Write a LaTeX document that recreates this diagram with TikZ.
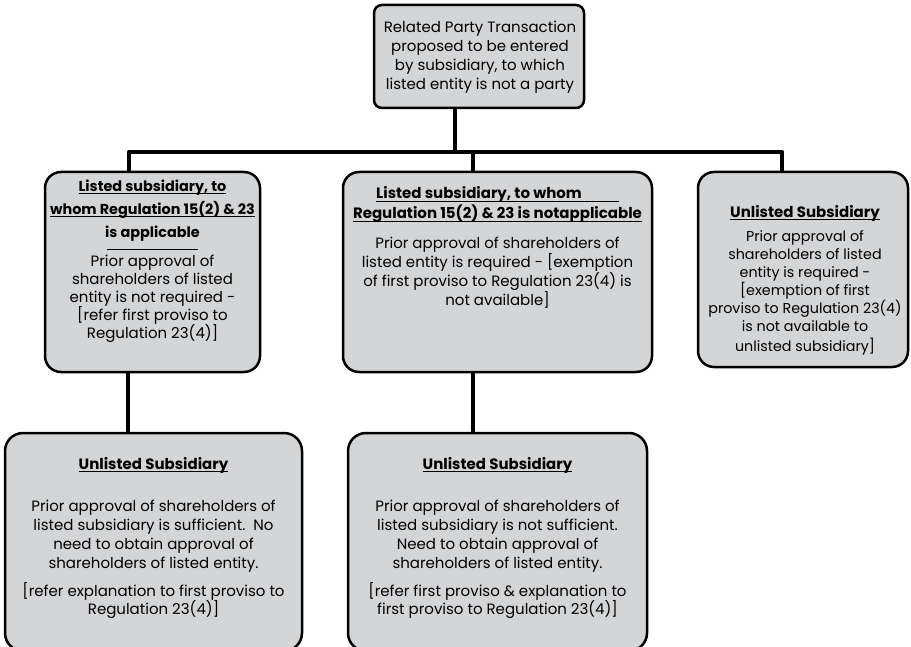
\documentclass[tikz,border=0pt]{standalone}
\usepackage{fontspec}
\setmainfont{Poppins}
\usetikzlibrary{calc}

\definecolor{boxgray}{RGB}{212,213,215}

% text settings for box bodies and headings
\newcommand\rptbody[2]{\fontsize{#1}{#2}\selectfont}
\newcommand\rpthead[2]{\fontsize{#1}{#2}\selectfont\bfseries}
% underline drawn close to the baseline
\newcommand\hdul[1]{\setbox0\hbox{#1}\rlap{\rule[-2.5pt]{\wd0}{0.9pt}}\box0}

\tikzset{
  box/.style={draw=black, line width=2.5pt, fill=boxgray, rounded corners=16pt,
              inner sep=0pt, outer sep=0pt, anchor=north west},
  body/.style={align=center, inner sep=0pt, font=\rptbody{15}{#1}},
  body/.default=19,
  bodysmall/.style={align=center, inner sep=0pt, font=\rptbody{14.3}{#1}},
  head/.style={align=center, inner sep=0pt, font=\rpthead{15}{#1}},
  head/.default=23,
  headsmall/.style={align=center, inner sep=0pt, font=\rpthead{14.4}{#1}},
  conn/.style={line width=4.5pt, line join=round, draw=black}
}

\begin{document}
\begin{tikzpicture}[x=1pt,y=-1pt]
\useasboundingbox (0,0) rectangle (911,647);
\clip (0,0) rectangle (911,647);

% boxes
\node[box, rounded corners=8pt, minimum width=210pt, minimum height=103pt] (b0) at (374,5) {};
\node[box, minimum width=215pt, minimum height=200pt] (b1) at (45,172) {};
\node[box, minimum width=309pt, minimum height=200pt] (b2) at (343,172) {};
\node[box, minimum width=210pt, minimum height=195pt] (b3) at (698,172) {};
\node[box, rounded corners=18pt, minimum width=297pt, minimum height=218pt] (b4) at (5,433) {};
\node[box, rounded corners=18pt, minimum width=299pt, minimum height=218pt] (b5) at (348,433) {};

% connectors
\coordinate (j0) at (455,152);
\coordinate (j1) at (129,152);
\coordinate (j2) at (473,152);
\coordinate (j3) at (782,152);
\coordinate (j4) at (128,400);
\draw[conn] (b0.south -| j0) -- (j0);
\draw[conn] (b1.north -| j1) -- (j1) -- (j3) -- (b3.north -| j3);
\draw[conn] (j2) -- (b2.north -| j2);
\draw[conn] (b1.south -| j4) -- (b4.north -| j4);
\draw[conn] (b2.south -| j2) -- (b5.north -| j2);

% top box
\node[body] (t0) at (480,57) {Related Party Transaction\\ proposed to be entered\\ by subsidiary, to which\\ listed entity is not a party};

% listed subsidiary, applicable
\node[headsmall=23] (h1) at (152.5,211) {\hdul{Listed subsidiary, to}\\ \hdul{whom Regulation 15(2) \& 23}\\ is applicable};
\draw[line width=0.9pt] (107,249) -- (198,249);
\node[body=18] (p1) at (152.5,299) {Prior approval of\\ shareholders of listed\\ entity is not required -\\ {[}refer first proviso to\\ Regulation 23(4)]};

% listed subsidiary, not applicable
\node[head=20] (h2) at (497.5,205) {\hdul{Listed subsidiary, to whom\hspace{37pt}}\\ \hdul{Regulation 15(2) \& 23 is notapplicable}};
\node[body=16.5] (p2) at (497.5,272.5) {Prior approval of shareholders of\\ listed entity is required - [exemption\\ of first proviso to Regulation 23(4) is\\ not available]};

% unlisted subsidiary (right)
\node[head] (h3) at (805,213) {\hdul{Unlisted Subsidiary}};
\node[bodysmall=18] (p3) at (805,293) {Prior approval of\\ shareholders of listed\\ entity is required -\\ {[}exemption of first\\ proviso to Regulation 23(4)\\ is not available to\\[2pt] unlisted subsidiary]};

% unlisted subsidiary below the applicable case
\node[head] (h4) at (153.5,465) {\hdul{Unlisted Subsidiary}};
\node[body] (p4a) at (153.5,536.5) {Prior approval of shareholders of\\ listed subsidiary is sufficient.\ \ No\\ need to obtain approval of\\ shareholders of listed entity.};
\node[body=18] (p4b) at (153.5,601) {[refer explanation to first proviso to\\ Regulation 23(4)]};

% unlisted subsidiary below the non-applicable case
\node[head] (h5) at (497.5,465) {\hdul{Unlisted Subsidiary}};
\node[body] (p5a) at (497.5,536.5) {Prior approval of shareholders of\\ listed subsidiary is not sufficient.\\ Need to obtain approval of\\ shareholders of listed entity.};
\node[body=18] (p5b) at (497.5,601) {[refer first proviso \& explanation to\\ first proviso to Regulation 23(4)]};
\end{tikzpicture}
\end{document}
